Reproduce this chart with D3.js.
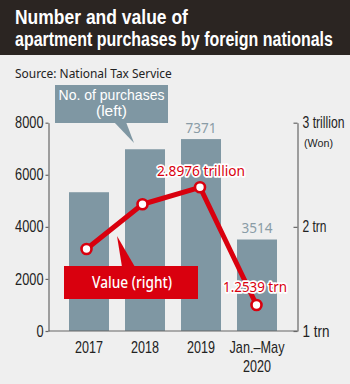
<!DOCTYPE html>
<html><head><meta charset="utf-8">
<script src="https://cdn.jsdelivr.net/npm/d3@7"></script>
<style>body{margin:0;background:#efefef;}svg{display:block;}</style>
</head><body>
<svg id="c" width="350" height="384"></svg>
<script>
const categories = ["2017", "2018", "2019", "Jan.–May|2020"];
const purchases = [5330, 6980, 7371, 3514];
const valueTrn = [1.787, 2.217, 2.38, 1.25];
const leftTicks = [0, 2000, 4000, 6000, 8000];
const rightTicks = [1, 2, 3];
const rightTickLabels = ["1 trn", "2 trn", "3 trillion"];
const barLabels = {2: "7371", 3: "3514"};
const valueLabels = {2: "2.8976 trillion", 3: "1.2539 trn"};

const svg = d3.select("#c");
const red = "#d9000e", barCol = "#7f97a3", ink = "#222";
const lib = "'Liberation Sans',Arial,sans-serif";
const noto = "'Noto Sans',sans-serif";

// horizontally squeeze a text node to a target width (anchor-aware)
function fit(sel, w) {
  sel.each(function() {
    const n = this, L = n.getComputedTextLength();
    if (!L) return;
    const s = w / L;
    const x = +n.getAttribute("x") || 0;
    const prev = n.getAttribute("transform") || "";
    n.setAttribute("transform", `${prev} translate(${x},0) scale(${s},1) translate(${-x},0)`);
  });
}

svg.append("rect").attr("width",350).attr("height",384).attr("fill","#efefef");
svg.append("rect").attr("width",350).attr("height",55).attr("fill","#2b2522");
const t = svg.append("g").attr("font-family",lib).attr("font-weight",700).attr("fill","#fff").attr("font-size",19.6);
fit(t.append("text").attr("x",15).attr("y",24).text("Number and value of"), 173);
fit(t.append("text").attr("x",15).attr("y",46).text("apartment purchases by foreign nationals"), 318);
fit(svg.append("text").attr("x",15).attr("y",78).attr("font-family",noto).attr("font-size",13.5).attr("fill",ink)
  .text("Source: National Tax Service"), 157);

const x = d3.scaleBand().domain(categories).range([61,285]).paddingInner(16/56).paddingOuter(8/56);
const yL = d3.scaleLinear().domain([0,8000]).range([331,122.7]);
const yR = d3.scaleLinear().domain([1,3]).range([331,122.7]);

// bars
svg.append("g").selectAll("rect").data(purchases).join("rect")
  .attr("x",(d,i)=>x(categories[i])).attr("width",x.bandwidth())
  .attr("y",d=>yL(d)).attr("height",d=>yL(0)-yL(d)).attr("fill",barCol);

// axes
const axCol = "#666";
const gL = svg.append("g").attr("transform","translate(48.5,0)")
  .call(d3.axisLeft(yL).tickValues(leftTicks).tickSize(3).tickSizeOuter(0).tickFormat(d3.format("d")));
gL.select(".domain").attr("stroke",axCol).attr("stroke-width",1.2);
gL.selectAll(".tick line").attr("stroke",axCol).attr("stroke-width",1.2);
gL.selectAll(".tick text").attr("font-family",lib).attr("font-size",16).attr("fill",ink).attr("x",-5)
  .each(function(d){ fit(d3.select(this), String(d).length*7.1); });

const rW = [27, 24, 42];
const gR = svg.append("g").attr("transform","translate(297.5,0)")
  .call(d3.axisRight(yR).tickValues(rightTicks).tickSize(0).tickSizeOuter(0).tickFormat((d,i)=>rightTickLabels[i]));
gR.select(".domain").attr("stroke",axCol).attr("stroke-width",1.2);
gR.selectAll(".tick").append("line").attr("x1",-4).attr("x2",0).attr("stroke",axCol).attr("stroke-width",1.2);
gR.selectAll(".tick text").attr("font-family",lib).attr("font-size",16).attr("fill",ink).attr("x",5)
  .each(function(d,i){ fit(d3.select(this), rW[i]); });
fit(svg.append("text").attr("x",304).attr("y",147).attr("font-family",lib).attr("font-size",11).attr("fill",ink)
  .text("(Won)"), 29);

// baseline
svg.append("line").attr("x1",48.5).attr("x2",297.5).attr("y1",331).attr("y2",331).attr("stroke",axCol).attr("stroke-width",1.2);

// x labels
const xl = svg.append("g").attr("font-family",lib).attr("font-size",16).attr("fill",ink).attr("text-anchor","middle");
categories.forEach(c=>{
  c.split("|").forEach((p,j)=>fit(xl.append("text").attr("x",x(c)+x.bandwidth()/2).attr("y",353+j*19).text(p),
    p.length===4?28:55));
});

// bar labels
Object.entries(barLabels).forEach(([i,s])=>{
  fit(svg.append("text").attr("x",x(categories[i])+x.bandwidth()/2).attr("y",yL(purchases[i])-6)
    .attr("text-anchor","middle").attr("font-family",noto).attr("font-size",15).attr("fill","#8a9ca6").text(s), 31);
});

// callout: No. of purchases
const cb = svg.append("g");
cb.append("path").attr("d","M114,122 L134,143 L126,122 Z").attr("fill",barCol);
cb.append("rect").attr("x",55).attr("y",85).attr("width",113).attr("height",38).attr("fill",barCol);
fit(cb.append("text").attr("x",111.5).attr("y",100).attr("text-anchor","middle").attr("fill","#fff")
  .attr("font-family",lib).attr("font-size",14.6).text("No. of purchases"), 106);
fit(cb.append("text").attr("x",111.5).attr("y",116.5).attr("text-anchor","middle").attr("fill","#fff")
  .attr("font-family",lib).attr("font-size",14.6).text("(left)"), 31);

// line
const cx = (d,i)=>x(categories[i])+x.bandwidth()/2 - (i<2?2.5:i==2?1:0.5);
const line = d3.line().x((d,i)=>cx(d,i)).y(d=>yR(d));
svg.append("path").datum(valueTrn).attr("d",line).attr("fill","none").attr("stroke",red).attr("stroke-width",5).attr("stroke-linejoin","round");

// callout: Value (right)
const cr = svg.append("g");
cr.append("path").attr("d","M117,236 L135,267 L122,267 Z").attr("fill",red);
cr.append("rect").attr("x",64).attr("y",266).attr("width",134).attr("height",33).attr("fill",red);
fit(cr.append("text").attr("x",132).attr("y",288).attr("text-anchor","middle").attr("fill","#fff")
  .attr("font-family",noto).attr("font-size",16).attr("font-weight",500).text("Value (right)"), 80);

svg.append("g").selectAll("circle").data(valueTrn).join("circle")
  .attr("cx",(d,i)=>cx(d,i)).attr("cy",d=>yR(d)).attr("r",5).attr("fill","#fff").attr("stroke",red).attr("stroke-width",2.6);

// value labels
const vpos = {2:[201,176,88], 3:[255,292,64]};
Object.entries(valueLabels).forEach(([i,s])=>{
  const [lx,ly,w] = vpos[i];
  fit(svg.append("text").attr("x",lx).attr("y",ly).attr("text-anchor","middle")
    .attr("font-family",noto).attr("font-size",15)
    .attr("fill",red).attr("stroke","#fff").attr("stroke-width",3.5).attr("paint-order","stroke").attr("stroke-linejoin","round").text(s), w);
});
</script>
</body></html>
